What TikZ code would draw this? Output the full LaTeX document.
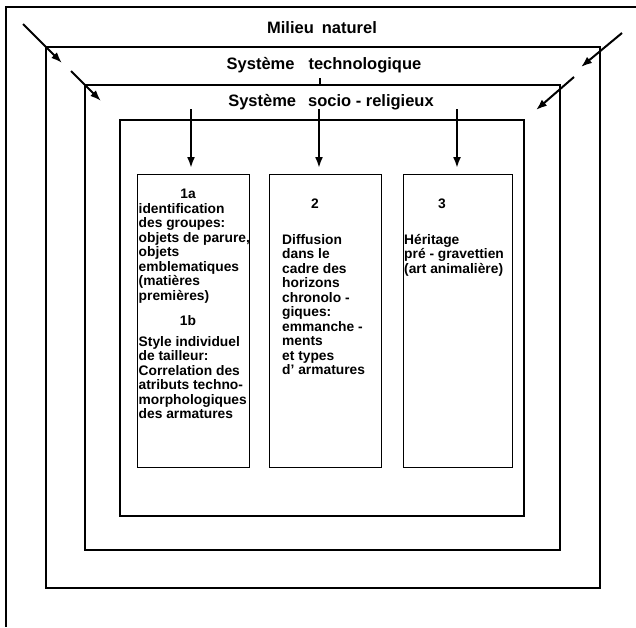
\documentclass[tikz,border=0pt]{standalone}
\usepackage{fontspec}
\setmainfont{Liberation Sans}
\usetikzlibrary{arrows.meta}
\begin{document}
\begin{tikzpicture}[x=1pt,y=-1pt,
  frame/.style={line width=1.5pt},
  col/.style={draw,line width=1.4pt,minimum height=293pt,anchor=north west,inner sep=0pt},
  title/.style={font=\fontsize{16.5}{18}\selectfont\bfseries,anchor=base,inner sep=0pt},
  boxtxt/.style={font=\fontsize{13.8}{14.5}\selectfont\bfseries,align=left,anchor=north west,inner sep=0pt},
  num/.style={font=\fontsize{13.8}{14.5}\selectfont\bfseries,anchor=base,inner sep=0pt},
  arr/.style={line width=2pt,-{Latex[length=11pt,width=8pt]}}
]
\useasboundingbox (0,0) rectangle (636,627);
% frames
\draw[frame] (636,7) -- (6,7) -- (6,627);
\draw[frame] (46,47) rectangle (600,588);
\draw[frame] (85,85) rectangle (560,550);
\draw[frame] (120,120) rectangle (524,516);
% columns
\node[col,minimum width=112pt] (b1) at (137,174) {};
\node[col,minimum width=112pt] (b2) at (269,174) {};
\node[col,minimum width=109pt] (b3) at (403,174) {};
% titles
\node[title] (mn) at (322,33) {Milieu\hspace{8pt}naturel};
\node[title] (st) at (324,69) {Système\hspace{14pt}technologique};
\node[title] (sr) at (331,106) {Système\hspace{12pt}socio - religieux};
% tick
\coordinate (k1) at (320,78);
\coordinate (k2) at (320,85);
\draw[line width=1.2pt] (k1) -- (k2);
% diagonal arrows
\coordinate (d1s) at (23,24);  \coordinate (d1e) at (62,63);
\coordinate (d2s) at (71,71);  \coordinate (d2e) at (101,101);
\coordinate (d3s) at (622,33); \coordinate (d3e) at (581,67);
\coordinate (d4s) at (574,77); \coordinate (d4e) at (536,110);
\draw[arr] (d1s) -- (d1e);
\draw[arr] (d2s) -- (d2e);
\draw[arr] (d3s) -- (d3e);
\draw[arr] (d4s) -- (d4e);
% vertical arrows
\coordinate (v1) at (191,109);
\coordinate (v2) at (319,109);
\coordinate (v3) at (457,109);
\draw[arr,shorten >=6pt] (v1) -- (v1 |- b1.north);
\draw[arr,shorten >=6pt] (v2) -- (v2 |- b2.north);
\draw[arr,shorten >=6pt] (v3) -- (v3 |- b3.north);
% column texts
\node[num] (n1a) at (188,198) {1a};
\node[boxtxt] (t1a) at (138.5,203) {identification\\des groupes:\\objets de parure,\\objets\\emblematiques\\(matières\\premières)};
\node[num] (n1b) at (188,325) {1b};
\node[boxtxt] (t1b) at (138.5,336) {Style individuel\\de tailleur:\\Correlation des\\atributs techno-\\morphologiques\\des armatures};
\node[num] (n2) at (315,208) {2};
\node[boxtxt] (t2) at (282,234) {Diffusion\\dans le\\cadre des\\horizons\\chronolo -\\giques:\\emmanche -\\ments\\et types\\d' armatures};
\node[num] (n3) at (442,208) {3};
\node[boxtxt] (t3) at (404,234) {Héritage\\pré - gravettien\\(art animalière)};
\end{tikzpicture}
\end{document}
